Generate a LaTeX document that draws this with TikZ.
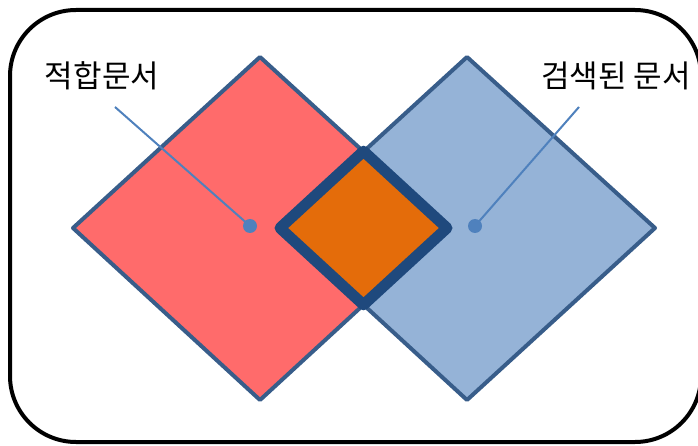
\documentclass[tikz,border=0pt]{standalone}
\usepackage{fontspec}
\newfontfamily\kofont{Noto Sans CJK KR}
\usepackage{xcolor}
\definecolor{cEdge}{HTML}{385D8A}
\definecolor{cRel}{HTML}{FF6B6B}
\definecolor{cRet}{HTML}{95B3D7}
\definecolor{cBoth}{HTML}{E46C0A}
\definecolor{cBothEdge}{HTML}{1F497D}
\definecolor{cCall}{HTML}{4F81BD}
\usetikzlibrary{positioning}
\tikzset{
  set-rel/.style={draw=cEdge,line width=4pt,line join=round,fill=cRel},
  set-ret/.style={draw=cEdge,line width=4pt,line join=round,fill=cRet},
  set-both/.style={draw=cBothEdge,line width=11pt,line join=round,fill=cBoth},
  frame-box/.style={draw=black,line width=4pt,rounded corners=66pt},
  label-text/.style={font=\kofont\fontsize{31}{34}\selectfont,inner sep=0pt},
  call-dot/.style={circle,fill=cCall,inner sep=0pt,minimum size=14pt},
  call-line/.style={draw=cCall,line width=2pt},
}
\begin{document}
\begin{tikzpicture}[x=1pt,y=-1pt]
  \useasboundingbox (0,0) rectangle (698,446);
  \draw[frame-box] (10,10) rectangle (701,442);
  % 두 집합 (적합 / 검색)
  \coordinate (relL) at (73,228);  \coordinate (relT) at (260,57);
  \coordinate (relR) at (447,228); \coordinate (relB) at (260,400);
  \coordinate (retL) at (280,228); \coordinate (retT) at (467,57);
  \coordinate (retR) at (655,228); \coordinate (retB) at (467,400);
  \filldraw[set-rel] (relL) -- (relT) -- (relR) -- (relB) -- cycle;
  \filldraw[set-ret] (retL) -- (retT) -- (retR) -- (retB) -- cycle;
  % 교집합
  \filldraw[set-both] (retL) -- (363.5,151.2) -- (relR) -- (363.5,304.8) -- cycle;
  % 설명
  \node[label-text] (relText) at (102,76) {적합문서};
  \node[label-text] (retText) at (616,76) {검색된 문서};
  \node[call-dot] (relDot) at (250,226) {};
  \node[call-dot] (retDot) at (475,226) {};
  \coordinate (relTail) at (115,107);
  \coordinate (retTail) at (579,107);
  \draw[call-line] (relTail) -- (relDot.center);
  \draw[call-line] (retTail) -- (retDot.center);
\end{tikzpicture}
\end{document}
